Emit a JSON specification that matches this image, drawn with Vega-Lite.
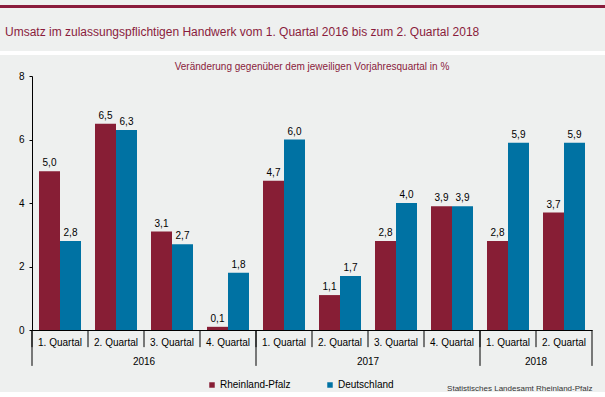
{
  "$schema": "https://vega.github.io/schema/vega-lite/v6.json",
  "padding": 0,
  "background": "#eef0ef",
  "config": {
    "font": "Liberation Sans",
    "locale": {"number": {"decimal": ",", "thousands": ".", "grouping": [3], "currency": ["", " €"]}},
    "view": {"stroke": null}
  },
  "datasets": {
    "bars": [
      {"period": "2016|1. Quartal", "series": "Rheinland-Pfalz", "value": 5.0},
      {"period": "2016|1. Quartal", "series": "Deutschland", "value": 2.8},
      {"period": "2016|2. Quartal", "series": "Rheinland-Pfalz", "value": 6.5},
      {"period": "2016|2. Quartal", "series": "Deutschland", "value": 6.3},
      {"period": "2016|3. Quartal", "series": "Rheinland-Pfalz", "value": 3.1},
      {"period": "2016|3. Quartal", "series": "Deutschland", "value": 2.7},
      {"period": "2016|4. Quartal", "series": "Rheinland-Pfalz", "value": 0.1},
      {"period": "2016|4. Quartal", "series": "Deutschland", "value": 1.8},
      {"period": "2017|1. Quartal", "series": "Rheinland-Pfalz", "value": 4.7},
      {"period": "2017|1. Quartal", "series": "Deutschland", "value": 6.0},
      {"period": "2017|2. Quartal", "series": "Rheinland-Pfalz", "value": 1.1},
      {"period": "2017|2. Quartal", "series": "Deutschland", "value": 1.7},
      {"period": "2017|3. Quartal", "series": "Rheinland-Pfalz", "value": 2.8},
      {"period": "2017|3. Quartal", "series": "Deutschland", "value": 4.0},
      {"period": "2017|4. Quartal", "series": "Rheinland-Pfalz", "value": 3.9},
      {"period": "2017|4. Quartal", "series": "Deutschland", "value": 3.9},
      {"period": "2018|1. Quartal", "series": "Rheinland-Pfalz", "value": 2.8},
      {"period": "2018|1. Quartal", "series": "Deutschland", "value": 5.9},
      {"period": "2018|2. Quartal", "series": "Rheinland-Pfalz", "value": 3.7},
      {"period": "2018|2. Quartal", "series": "Deutschland", "value": 5.9}
    ],
    "periods": [
      {"period": "2016|1. Quartal", "year": "2016", "q": 1, "idx": 0},
      {"period": "2016|2. Quartal", "year": "2016", "q": 2, "idx": 1},
      {"period": "2016|3. Quartal", "year": "2016", "q": 3, "idx": 2},
      {"period": "2016|4. Quartal", "year": "2016", "q": 4, "idx": 3},
      {"period": "2017|1. Quartal", "year": "2017", "q": 1, "idx": 4},
      {"period": "2017|2. Quartal", "year": "2017", "q": 2, "idx": 5},
      {"period": "2017|3. Quartal", "year": "2017", "q": 3, "idx": 6},
      {"period": "2017|4. Quartal", "year": "2017", "q": 4, "idx": 7},
      {"period": "2018|1. Quartal", "year": "2018", "q": 1, "idx": 8},
      {"period": "2018|2. Quartal", "year": "2018", "q": 2, "idx": 9}
    ]
  },
  "columns": 1,
  "align": "none",
  "spacing": 4,
  "concat": [
    {
      "spacing": 9,
      "vconcat": [
        {
          "width": 605,
          "height": 3,
          "view": {"fill": "#8a1c3c", "stroke": null},
          "title": {
            "text": "Umsatz im zulassungspflichtigen Handwerk vom 1. Quartal 2016 bis zum 2. Quartal 2018",
            "orient": "bottom", "anchor": "start", "offset": 15, "dx": 5,
            "fontSize": 12, "fontWeight": "normal", "color": "#8a1c3c"
          },
          "data": {"values": [{}]},
          "mark": "text",
          "encoding": {"text": {"value": ""}}
        },
        {
          "width": 605,
          "height": 4,
          "view": {"fill": "#ffffff", "stroke": null},
          "data": {"values": [{}]},
          "mark": "text",
          "encoding": {"text": {"value": ""}}
        }
      ]
    },
    {
      "spacing": 0,
      "hconcat": [
        {
          "width": 1,
          "height": 254,
          "data": {"values": [{}]},
          "mark": "text",
          "encoding": {"text": {"value": ""}}
        },
        {
          "width": 560,
          "height": 254,
          "title": {
            "text": "Veränderung gegenüber dem jeweiligen Vorjahresquartal in %",
            "fontSize": 10, "fontWeight": "normal", "color": "#8a1c3c", "offset": -1, "anchor": "middle"
          },
          "resolve": {"scale": {"x": "independent"}},
          "layer": [
            {
              "layer": [
                {
                  "data": {"name": "bars"},
                  "mark": {"type": "bar"},
                  "encoding": {
                    "x": {
                      "field": "period", "type": "nominal", "sort": null,
                      "scale": {"paddingInner": 0, "paddingOuter": 0},
                      "axis": {
                        "title": "Statistisches Landesamt Rheinland-Pfalz",
                        "labelExpr": "split(datum.label, '|')[1]",
                        "labelAngle": 0, "ticks": false,
                        "domainColor": "#000000", "labelColor": "#000000",
                        "labelFontSize": 10, "labelPadding": 7,
                        "titleFontSize": 8, "titleFontWeight": "normal", "titleColor": "#333333",
                        "titleAnchor": "end", "titlePadding": 37
                      }
                    },
                    "xOffset": {
                      "field": "series", "type": "nominal",
                      "sort": ["Rheinland-Pfalz", "Deutschland"],
                      "scale": {"paddingInner": 0, "paddingOuter": 0.3333}
                    },
                    "y": {
                      "field": "value", "type": "quantitative",
                      "scale": {"domain": [0, 8], "nice": false},
                      "axis": {
                        "values": [0, 2, 4, 6, 8], "format": "d", "grid": false, "title": null,
                        "domainColor": "#000000", "tickColor": "#000000", "tickSize": 3,
                        "labelColor": "#000000", "labelFontSize": 10, "labelPadding": 5,
                        "minExtent": 31
                      }
                    },
                    "color": {
                      "field": "series", "type": "nominal",
                      "sort": ["Rheinland-Pfalz", "Deutschland"],
                      "scale": {"domain": ["Rheinland-Pfalz", "Deutschland"], "range": ["#871e35", "#0072a3"]},
                      "legend": {
                        "title": null, "orient": "none", "legendX": 207, "legendY": 375,
                        "direction": "horizontal",
                        "symbolType": "square", "symbolSize": 30, "symbolStrokeWidth": 0,
                        "labelFontSize": 10, "labelColor": "#000000", "labelOffset": 3,
                        "columnPadding": 34
                      }
                    }
                  }
                },
                {
                  "data": {"name": "bars"},
                  "mark": {"type": "text", "fontSize": 10, "color": "#000000", "baseline": "alphabetic", "dy": -5},
                  "encoding": {
                    "x": {"field": "period", "type": "nominal", "sort": null},
                    "xOffset": {"field": "series", "type": "nominal", "sort": ["Rheinland-Pfalz", "Deutschland"]},
                    "y": {"field": "value", "type": "quantitative"},
                    "text": {"field": "value", "type": "quantitative", "format": ".1f"}
                  }
                },
                {
                  "data": {"name": "periods"},
                  "mark": {"type": "rule", "color": "#000000", "strokeWidth": 1},
                  "encoding": {
                    "x": {"field": "period", "type": "nominal", "sort": null, "bandPosition": 0},
                    "y": {"datum": 0},
                    "y2": {"datum": -0.54}
                  }
                },
                {
                  "data": {"name": "periods"},
                  "transform": [{"filter": "datum.q == 1"}],
                  "mark": {"type": "rule", "color": "#000000", "strokeWidth": 1},
                  "encoding": {
                    "x": {"field": "period", "type": "nominal", "sort": null, "bandPosition": 0},
                    "y": {"datum": 0},
                    "y2": {"datum": -1.13}
                  }
                },
                {
                  "data": {"name": "periods"},
                  "transform": [{"filter": "datum.idx == 9"}],
                  "mark": {"type": "rule", "color": "#000000", "strokeWidth": 1},
                  "encoding": {
                    "x": {"field": "period", "type": "nominal", "sort": null, "bandPosition": 1},
                    "y": {"datum": 0},
                    "y2": {"datum": -1.13}
                  }
                }
              ]
            },
            {
              "data": {"name": "periods"},
              "mark": {"type": "text", "fontSize": 10, "color": "#000000", "baseline": "middle"},
              "encoding": {
                "x": {
                  "aggregate": "mean", "field": "idx", "type": "quantitative",
                  "scale": {"domain": [-0.5, 9.5], "nice": false, "zero": false},
                  "axis": null
                },
                "y": {"datum": -1.0},
                "text": {"field": "year", "type": "nominal"}
              }
            }
          ]
        }
      ]
    }
  ]
}
